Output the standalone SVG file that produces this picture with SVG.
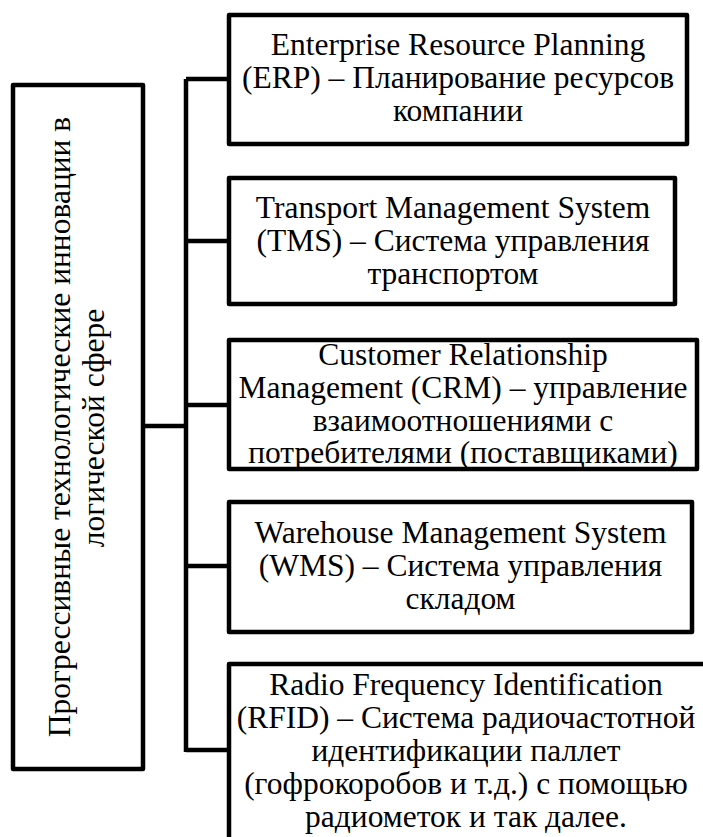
<svg xmlns="http://www.w3.org/2000/svg" width="703" height="837" viewBox="0 0 703 837">
<style>
.box{fill:#fff;stroke:#000;stroke-width:4.5;stroke-linejoin:round}
.ln{fill:none;stroke:#000;stroke-width:4.5;stroke-linejoin:round}
text{font-family:"Liberation Serif","Times New Roman",serif;font-size:31.5px;fill:#000;text-anchor:middle}
</style>
<rect width="703" height="837" fill="#fff"/>
<g id="connectors">
<path class="ln" d="M145,426H186"/>
<path class="ln" d="M186,79V752"/>
<path class="ln" d="M186,79H229M186,241H229M186,405H229M186,566H229M186,750H229"/>
</g>
<g id="root">
<rect class="box" x="13" y="85" width="130" height="684"/>
<text transform="translate(70,427) rotate(-90)">Прогрессивные технологические инновации в</text>
<text transform="translate(104,428) rotate(-90)">логической сфере</text>
</g>
<g id="erp">
<rect class="box" x="229" y="15" width="458" height="129"/>
<text x="458" y="55">Enterprise Resource Planning</text>
<text x="458" y="88">(ERP) – Планирование ресурсов</text>
<text x="458" y="121">компании</text>
</g>
<g id="tms">
<rect class="box" x="229" y="178" width="446" height="126"/>
<text x="453" y="218">Transport Management System</text>
<text x="453" y="251">(TMS) – Система управления</text>
<text x="453" y="284">транспортом</text>
</g>
<g id="crm">
<rect class="box" x="229" y="340" width="468" height="129"/>
<text x="463" y="365">Customer Relationship</text>
<text x="463" y="398">Management (CRM) – управление</text>
<text x="463" y="431">взаимоотношениями с</text>
<text x="463" y="463">потребителями (поставщиками)</text>
</g>
<g id="wms">
<rect class="box" x="229" y="502" width="463" height="130"/>
<text x="460.5" y="543">Warehouse Management System</text>
<text x="460.5" y="576">(WMS) – Система управления</text>
<text x="460.5" y="609">складом</text>
</g>
<g id="rfid">
<rect class="box" x="229" y="664" width="480" height="200"/>
<text x="466" y="695">Radio Frequency Identification</text>
<text x="466" y="728">(RFID) – Система радиочастотной</text>
<text x="466" y="761">идентификации паллет</text>
<text x="466" y="794">(гофрокоробов и т.д.) с помощью</text>
<text x="466" y="827">радиометок и так далее.</text>
</g>
</svg>
